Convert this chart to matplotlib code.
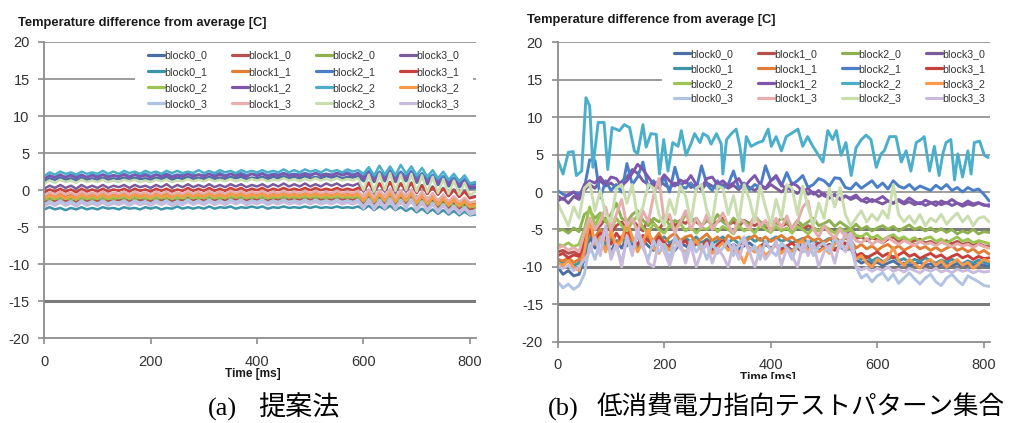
import numpy as np
import matplotlib
matplotlib.use("Agg")
import matplotlib.pyplot as plt
from matplotlib.patches import Rectangle
from matplotlib.font_manager import FontProperties

W, H, DPI = 1015, 423, 100

# ---------------- data ----------------
names = ["block0_0", "block1_0", "block2_0", "block3_0",
         "block0_1", "block1_1", "block2_1", "block3_1",
         "block0_2", "block1_2", "block2_2", "block3_2",
         "block0_3", "block1_3", "block2_3", "block3_3"]
colors = ["#4A6FA5", "#B5504C", "#8EB04F", "#7A5C9C",
          "#3D94A8", "#E07E35", "#4A7FC8", "#C8403C",
          "#9BC451", "#7E56AD", "#4BAFCB", "#F89A4A",
          "#AFC3E3", "#E5AEAD", "#C9DDAE", "#C8BBDB"]
time_ms = list(range(0, 820, 10))   # 0 .. 810 ms, 82 samples

# (a) proposed method
a_block2_2 = [1.9, 2.4, 2.1, 2.5, 2.2, 2.4, 2.1, 2.5, 2.2, 2.4,
              2.2, 2.6, 2.2, 2.5, 2.2, 2.6, 2.3, 2.5, 2.2, 2.6,
              2.3, 2.5, 2.2, 2.6, 2.3, 2.6, 2.3, 2.5, 2.3, 2.7,
              2.3, 2.6, 2.3, 2.7, 2.4, 2.6, 2.3, 2.7, 2.4, 2.6,
              2.4, 2.7, 2.4, 2.6, 2.4, 2.8, 2.4, 2.7, 2.4, 2.8,
              2.5, 2.7, 2.4, 2.8, 2.5, 2.7, 2.4, 2.8, 2.5, 2.7,
              2.2, 3.1, 2.0, 3.3, 2.1, 3.2, 2.0, 3.4, 2.2, 3.2,
              2.0, 3.0, 1.8, 2.7, 1.6, 2.5, 1.4, 2.2, 1.2, 2.0, 0.9, 1.1]
a_block2_1 = [1.6, 1.9, 1.8, 2.0, 1.8, 2.1, 1.9, 2.0, 1.8, 2.1,
              1.9, 2.1, 1.9, 2.0, 1.9, 2.2, 1.9, 2.1, 2.0, 2.2,
              1.9, 2.1, 2.0, 2.2, 1.9, 2.1, 2.0, 2.2, 2.0, 2.1,
              2.0, 2.2, 2.0, 2.3, 2.0, 2.2, 2.1, 2.3, 2.0, 2.2,
              2.1, 2.3, 2.0, 2.2, 2.1, 2.3, 2.1, 2.2, 2.1, 2.3,
              2.1, 2.3, 2.1, 2.2, 2.1, 2.3, 2.2, 2.4, 2.1, 2.3,
              1.8, 2.6, 1.7, 2.5, 1.8, 2.7, 1.7, 2.5, 1.8, 2.6,
              1.6, 2.3, 1.4, 2.1, 1.2, 1.9, 1.1, 1.7, 0.9, 1.5, 0.7, 0.8]
a_block1_2 = [1.5, 2.0, 1.7, 2.1, 1.7, 2.0, 1.6, 2.1, 1.7, 2.0,
              1.7, 2.1, 1.7, 2.0, 1.8, 2.1, 1.7, 2.1, 1.8, 2.0,
              1.7, 2.1, 1.8, 2.1, 1.7, 2.0, 1.8, 2.2, 1.8, 2.1,
              1.8, 2.2, 1.8, 2.1, 1.8, 2.2, 1.9, 2.1, 1.8, 2.2,
              1.9, 2.2, 1.8, 2.1, 1.9, 2.3, 1.9, 2.1, 1.9, 2.2,
              1.9, 2.3, 1.9, 2.2, 1.9, 2.3, 2.0, 2.2, 1.9, 2.3,
              1.5, 2.3, 1.3, 2.2, 1.4, 2.4, 1.3, 2.2, 1.5, 2.3,
              1.2, 2.0, 1.0, 1.8, 0.9, 1.6, 0.8, 1.4, 0.6, 1.2, 0.4, 0.5]
a_block0_0 = [1.2, 1.6, 1.4, 1.7, 1.4, 1.6, 1.3, 1.7, 1.4, 1.6,
              1.4, 1.7, 1.4, 1.6, 1.5, 1.7, 1.4, 1.7, 1.5, 1.6,
              1.4, 1.7, 1.5, 1.8, 1.4, 1.7, 1.5, 1.8, 1.5, 1.7,
              1.5, 1.8, 1.5, 1.7, 1.5, 1.8, 1.6, 1.8, 1.5, 1.7,
              1.6, 1.8, 1.5, 1.8, 1.6, 1.9, 1.6, 1.8, 1.6, 1.9,
              1.6, 1.8, 1.6, 1.9, 1.7, 1.9, 1.6, 1.8, 1.7, 1.9,
              1.2, 2.0, 1.1, 1.9, 1.2, 2.1, 1.1, 1.9, 1.2, 2.0,
              1.0, 1.7, 0.8, 1.5, 0.7, 1.3, 0.5, 1.1, 0.4, 0.9, 0.2, 0.3]
a_block2_3 = [0.9, 1.3, 1.0, 1.4, 1.1, 1.3, 1.0, 1.4, 1.1, 1.3,
              1.1, 1.4, 1.1, 1.3, 1.1, 1.4, 1.2, 1.4, 1.1, 1.3,
              1.1, 1.4, 1.2, 1.4, 1.1, 1.3, 1.2, 1.5, 1.2, 1.4,
              1.2, 1.5, 1.2, 1.4, 1.2, 1.5, 1.2, 1.4, 1.2, 1.5,
              1.3, 1.5, 1.2, 1.4, 1.3, 1.6, 1.3, 1.5, 1.2, 1.5,
              1.3, 1.6, 1.3, 1.5, 1.3, 1.6, 1.3, 1.5, 1.3, 1.6,
              0.0, 2.1, -0.2, 2.2, 0.0, 2.3, -0.1, 2.1, 0.0, 2.2,
              -0.2, 2.0, -0.3, 1.8, -0.4, 1.5, -0.5, 1.3, -0.6, 1.0, -0.7, -0.2]
a_block3_0 = [0.2, 0.6, 0.3, 0.7, 0.3, 0.6, 0.2, 0.7, 0.3, 0.6,
              0.3, 0.7, 0.3, 0.6, 0.4, 0.7, 0.3, 0.7, 0.4, 0.6,
              0.3, 0.7, 0.4, 0.8, 0.3, 0.7, 0.4, 0.8, 0.4, 0.7,
              0.4, 0.8, 0.4, 0.7, 0.4, 0.8, 0.5, 0.8, 0.4, 0.7,
              0.5, 0.8, 0.4, 0.8, 0.5, 0.9, 0.5, 0.8, 0.5, 0.9,
              0.5, 0.8, 0.5, 0.9, 0.6, 0.9, 0.5, 0.8, 0.6, 0.9,
              -0.2, 1.0, -0.3, 0.9, -0.2, 1.1, -0.3, 0.9, -0.2, 1.0,
              -0.4, 0.7, -0.5, 0.5, -0.6, 0.3, -0.8, 0.1, -0.9, -0.1, -1.0, -0.8]
a_block3_1 = [-0.3, 0.1, -0.2, 0.2, -0.2, 0.1, -0.3, 0.2, -0.2, 0.1,
              -0.2, 0.2, -0.2, 0.1, -0.1, 0.2, -0.2, 0.2, -0.1, 0.1,
              -0.2, 0.2, -0.1, 0.2, -0.2, 0.1, -0.1, 0.3, -0.1, 0.2,
              -0.1, 0.3, -0.1, 0.2, -0.1, 0.3, 0.0, 0.3, -0.1, 0.2,
              0.0, 0.3, -0.1, 0.2, 0.0, 0.3, 0.0, 0.2, 0.0, 0.3,
              0.0, 0.3, 0.0, 0.2, 0.0, 0.3, 0.0, 0.2, 0.0, 0.3,
              0.0, 1.0, -0.1, 0.9, 0.0, 1.1, -0.1, 0.9, 0.0, 1.0,
              -0.3, 0.6, -0.5, 0.4, -0.6, 0.2, -0.8, 0.0, -0.9, -0.2, -1.1, -0.9]
a_block1_3 = [-0.7, -0.3, -0.6, -0.2, -0.6, -0.3, -0.7, -0.2, -0.6, -0.3,
              -0.6, -0.2, -0.6, -0.3, -0.5, -0.2, -0.6, -0.2, -0.5, -0.3,
              -0.6, -0.2, -0.5, -0.2, -0.6, -0.3, -0.5, -0.1, -0.5, -0.2,
              -0.5, -0.1, -0.5, -0.2, -0.5, -0.1, -0.4, -0.1, -0.5, -0.2,
              -0.4, -0.1, -0.5, -0.2, -0.4, -0.1, -0.4, -0.2, -0.4, -0.1,
              -0.4, -0.1, -0.4, -0.2, -0.4, -0.1, -0.4, -0.2, -0.4, -0.1,
              -0.9, 0.1, -1.0, 0.0, -0.9, 0.2, -1.0, 0.0, -0.9, 0.1,
              -1.2, -0.2, -1.3, -0.4, -1.4, -0.6, -1.5, -0.8, -1.6, -1.0, -1.7, -1.5]
a_block1_1 = [-1.0, -0.6, -0.9, -0.5, -0.9, -0.6, -1.0, -0.5, -0.9, -0.6,
              -0.9, -0.5, -0.9, -0.6, -0.8, -0.5, -0.9, -0.5, -0.8, -0.6,
              -0.9, -0.5, -0.8, -0.5, -0.9, -0.6, -0.8, -0.4, -0.8, -0.5,
              -0.8, -0.4, -0.8, -0.5, -0.8, -0.4, -0.7, -0.4, -0.8, -0.5,
              -0.7, -0.4, -0.8, -0.5, -0.7, -0.4, -0.7, -0.5, -0.7, -0.4,
              -0.7, -0.4, -0.7, -0.5, -0.7, -0.4, -0.7, -0.5, -0.7, -0.4,
              -1.2, -0.2, -1.3, -0.3, -1.2, -0.1, -1.3, -0.3, -1.2, -0.2,
              -1.5, -0.5, -1.6, -0.7, -1.7, -0.9, -1.8, -1.1, -1.9, -1.3, -2.0, -1.8]
a_block3_2 = [-1.1, -0.7, -1.0, -0.7, -1.1, -0.8, -1.1, -0.6, -1.0, -0.7,
              -1.0, -0.6, -1.0, -0.7, -0.9, -0.6, -1.0, -0.6, -0.9, -0.7,
              -1.0, -0.6, -0.9, -0.7, -1.0, -0.6, -0.9, -0.5, -0.9, -0.6,
              -0.9, -0.5, -0.9, -0.6, -0.9, -0.5, -0.8, -0.5, -0.9, -0.6,
              -0.8, -0.5, -0.9, -0.6, -0.8, -0.5, -0.8, -0.6, -0.8, -0.5,
              -0.8, -0.5, -0.8, -0.6, -0.8, -0.5, -0.8, -0.6, -0.8, -0.5,
              -1.4, -0.4, -1.5, -0.5, -1.4, -0.3, -1.5, -0.5, -1.4, -0.4,
              -1.7, -0.7, -1.8, -0.9, -1.9, -1.1, -2.0, -1.3, -2.1, -1.5, -2.2, -2.0]
a_block0_2 = [-1.3, -0.9, -1.2, -0.8, -1.2, -0.9, -1.3, -0.8, -1.2, -0.9,
              -1.2, -0.8, -1.2, -0.9, -1.1, -0.8, -1.2, -0.8, -1.1, -0.9,
              -1.2, -0.8, -1.1, -0.8, -1.2, -0.9, -1.1, -0.7, -1.1, -0.8,
              -1.1, -0.7, -1.1, -0.8, -1.1, -0.7, -1.0, -0.7, -1.1, -0.8,
              -1.0, -0.7, -1.1, -0.8, -1.0, -0.7, -1.0, -0.8, -1.0, -0.7,
              -1.0, -0.7, -1.0, -0.8, -1.0, -0.7, -1.0, -0.8, -1.0, -0.7,
              -1.5, -0.5, -1.6, -0.6, -1.5, -0.4, -1.6, -0.6, -1.5, -0.5,
              -1.8, -0.8, -1.9, -1.0, -2.0, -1.2, -2.1, -1.4, -2.2, -1.6, -2.3, -2.1]
a_block2_0 = [-1.0, -1.4, -1.0, -1.3, -0.9, -1.4, -1.0, -1.3, -0.9, -1.3,
              -0.9, -1.3, -1.0, -1.3, -0.9, -1.2, -0.9, -1.3, -0.9, -1.2,
              -0.9, -1.3, -0.9, -1.2, -0.8, -1.2, -0.9, -1.3, -0.8, -1.2,
              -0.8, -1.2, -0.9, -1.2, -0.8, -1.1, -0.8, -1.2, -0.8, -1.1,
              -0.8, -1.2, -0.8, -1.1, -0.8, -1.2, -0.7, -1.1, -0.8, -1.1,
              -0.7, -1.1, -0.8, -1.2, -0.7, -1.1, -0.7, -1.1, -0.8, -1.1,
              -0.6, -1.7, -0.5, -1.8, -0.6, -1.7, -0.5, -1.8, -0.6, -1.7,
              -0.8, -2.0, -1.0, -2.1, -1.2, -2.2, -1.4, -2.3, -1.6, -2.4, -1.8, -2.4]
a_block1_0 = [-1.6, -1.2, -1.5, -1.1, -1.5, -1.2, -1.6, -1.1, -1.5, -1.2,
              -1.5, -1.1, -1.5, -1.2, -1.4, -1.1, -1.5, -1.1, -1.4, -1.2,
              -1.5, -1.1, -1.4, -1.1, -1.5, -1.2, -1.4, -1.0, -1.4, -1.1,
              -1.4, -1.0, -1.4, -1.1, -1.4, -1.0, -1.3, -1.0, -1.4, -1.1,
              -1.3, -1.0, -1.4, -1.1, -1.3, -1.0, -1.3, -1.1, -1.3, -1.0,
              -1.3, -1.0, -1.3, -1.1, -1.3, -1.0, -1.3, -1.1, -1.3, -1.0,
              -1.8, -0.8, -1.9, -0.9, -1.8, -0.7, -1.9, -0.9, -1.8, -0.8,
              -2.1, -1.1, -2.2, -1.3, -2.3, -1.5, -2.4, -1.7, -2.5, -1.9, -2.6, -2.4]
a_block0_3 = [-1.9, -1.5, -1.8, -1.4, -1.8, -1.5, -1.9, -1.4, -1.8, -1.5,
              -1.8, -1.4, -1.8, -1.5, -1.7, -1.4, -1.8, -1.4, -1.7, -1.5,
              -1.8, -1.4, -1.7, -1.4, -1.8, -1.5, -1.7, -1.3, -1.7, -1.4,
              -1.7, -1.3, -1.7, -1.4, -1.7, -1.3, -1.6, -1.3, -1.7, -1.4,
              -1.6, -1.3, -1.7, -1.4, -1.6, -1.3, -1.6, -1.4, -1.6, -1.3,
              -1.6, -1.3, -1.6, -1.4, -1.6, -1.3, -1.6, -1.4, -1.6, -1.3,
              -2.2, -1.2, -2.3, -1.3, -2.2, -1.1, -2.3, -1.3, -2.2, -1.2,
              -2.5, -1.5, -2.6, -1.7, -2.7, -1.9, -2.8, -2.1, -2.9, -2.3, -3.0, -2.8]
a_block3_3 = [-2.2, -1.8, -2.1, -1.7, -2.1, -1.8, -2.2, -1.7, -2.1, -1.8,
              -2.1, -1.7, -2.1, -1.8, -2.0, -1.7, -2.1, -1.7, -2.0, -1.8,
              -2.1, -1.7, -2.0, -1.7, -2.1, -1.8, -2.0, -1.6, -2.0, -1.7,
              -2.0, -1.6, -2.0, -1.7, -2.0, -1.6, -1.9, -1.6, -2.0, -1.7,
              -1.9, -1.6, -2.0, -1.7, -1.9, -1.6, -1.9, -1.7, -1.9, -1.6,
              -1.9, -1.6, -1.9, -1.7, -1.9, -1.6, -1.9, -1.7, -1.9, -1.6,
              -2.5, -1.4, -2.6, -1.5, -2.5, -1.3, -2.6, -1.5, -2.5, -1.4,
              -2.8, -1.7, -2.9, -1.9, -3.0, -2.1, -3.1, -2.3, -3.2, -2.5, -3.3, -3.1]
a_block0_1 = [-2.6, -2.3, -2.6, -2.4, -2.7, -2.4, -2.6, -2.3, -2.6, -2.4,
              -2.6, -2.3, -2.5, -2.4, -2.6, -2.3, -2.5, -2.4, -2.6, -2.3,
              -2.5, -2.3, -2.6, -2.4, -2.5, -2.2, -2.5, -2.3, -2.5, -2.3,
              -2.5, -2.2, -2.5, -2.3, -2.4, -2.2, -2.5, -2.3, -2.4, -2.2,
              -2.4, -2.2, -2.5, -2.3, -2.4, -2.2, -2.4, -2.3, -2.4, -2.2,
              -2.4, -2.2, -2.4, -2.3, -2.4, -2.2, -2.4, -2.3, -2.4, -2.2,
              -2.6, -2.1, -2.7, -2.2, -2.6, -2.1, -2.7, -2.3, -2.8, -2.4,
              -3.0, -2.5, -3.1, -2.6, -3.2, -2.7, -3.3, -2.8, -3.4, -2.9, -3.4, -3.3]

# (b) low-power-oriented test pattern set
b_block2_2_t = [0, 10, 20, 29, 35, 45, 53, 60, 66, 76, 87, 94, 102, 116, 125, 135, 144, 150, 160, 166,
                175, 185, 191, 199, 207, 216, 226, 232, 241, 251, 257, 267, 273, 282, 288, 298, 307, 310, 317, 326,
                335, 342, 348, 354, 363, 376, 385, 395, 401, 410, 420, 429, 438, 451, 460, 469, 479, 488, 498, 507,
                516, 523, 532, 541, 551, 560, 570, 579, 588, 598, 607, 613, 623, 635, 645, 654, 663, 673, 682, 688,
                698, 707, 716, 723, 729, 738, 745, 751, 760, 770, 776, 782, 792, 801, 808]
b_block2_2 = [4.3, 2.4, 5.3, 5.4, 2.2, 2.8, 12.6, 11.5, 3.3, 9.3, 9.3, 3.0, 8.6, 8.2, 9.0, 8.6, 5.5, 5.1, 9.0, 6.0,
              7.8, 7.7, 2.4, 7.0, 2.8, 6.6, 6.1, 8.2, 4.9, 6.6, 7.8, 6.6, 7.8, 7.4, 6.4, 7.8, 6.4, 2.4, 7.0, 7.8,
              8.4, 6.1, 2.8, 7.4, 6.1, 6.6, 6.8, 8.4, 6.1, 7.4, 5.5, 7.4, 7.8, 8.4, 6.1, 7.4, 6.1, 5.1, 4.0, 8.2,
              7.0, 8.2, 4.9, 6.6, 2.2, 5.9, 7.0, 7.6, 7.0, 3.3, 5.1, 5.5, 7.4, 7.4, 4.0, 5.5, 2.8, 6.6, 7.0, 7.4,
              2.8, 6.1, 2.2, 5.1, 6.6, 7.0, 1.6, 5.1, 2.0, 5.5, 2.4, 6.6, 6.8, 4.9, 4.6]
b_block2_1 = [0.2, -0.3, -0.5, 0.0, -0.3, 0.5,
              4.3, 4.2, -0.8, 1.5, 0.2, 1.0, 0.0, 3.8, 1.0, 2.0,
              4.0, 0.5, 1.5, 0.5, 2.0, 0.0, 3.3, 0.8, 0.5, 1.2,
              0.3, 3.5, 1.0, 0.2, 1.5, 0.5, 1.0, 2.8, 0.5, 1.2,
              0.3, 1.0, 0.6, 3.5, 1.5, 2.0, 0.8, 2.6, 1.0, 1.5,
              2.2, 0.6, 1.0, 1.8, 1.5, 0.8, 1.9, 1.8, 0.6, 0.4,
              1.2, 0.5, 1.0, 1.5, 0.6, 1.2, 0.4, 1.5, 0.8, 0.5,
              1.0, 0.3, 0.8, 0.5, 0.2, 0.9, 0.4, 1.0, 0.2, 0.6,
              0.0, 0.6, 0.2, 0.4, -0.3, -1.2]
b_block1_2 = [-0.5, -1.0, -0.3, 0.0, -0.8, 1.0,
              1.5, 1.2, 2.0, 1.0, 2.0, 1.8, 0.8, 1.5, 2.5, 3.7,
              3.0, 2.0, 1.0, 1.2, 2.3, 1.5, 0.8, 1.6, 1.2, 2.2,
              1.0, 0.5, 1.8, 2.0, 1.0, 1.5, 0.8, 1.2, 1.8, 0.6,
              1.5, 2.2, 1.0, 0.5, 1.5, 2.2, 1.0, 0.3, 1.2, 0.8,
              0.0, 0.5, -0.3, 0.2, -0.5, -0.8, -0.3, -1.0, -0.6, -0.8,
              -0.4, -1.2, -0.8, -1.3, -1.0, -0.6, -1.2, -1.5, -1.0, -1.4,
              -0.8, -1.3, -1.6, -1.1, -1.4, -1.8, -1.2, -1.5, -1.0, -1.5,
              -1.7, -1.2, -1.6, -1.4, -1.8, -1.7]
b_block3_0 = [-1.2, -0.8, -1.5, -0.6, -1.0, 0.2,
              1.0, 0.5, 1.5, 0.8, 1.2, 0.6, 1.4, 2.0, 3.0, 2.5,
              1.5, 1.0, 0.8, 1.5, 1.0, 0.5, 1.2, 0.8, 1.5, 0.6,
              1.0, 0.3, 1.2, 0.8, 0.4, 1.0, 0.5, 0.9, 0.3, 1.1,
              0.6, 0.2, 0.8, 0.4, 1.0, 0.5, 0.0, 0.6, 0.2, -0.2,
              0.4, -0.3, 0.0, -0.6, -0.2, -0.8, -0.4, -0.9, -0.5, -1.0,
              -0.7, -1.1, -1.4, -1.0, -1.3, -1.6, -1.2, -1.5, -1.2, -1.6,
              -1.3, -1.7, -1.4, -1.8, -1.5, -1.3, -1.7, -1.4, -1.8, -1.5,
              -1.9, -1.6, -1.8, -1.5, -1.7, -1.9]
b_block2_3 = [-1.5, -3.0, -4.5, -2.0, -3.5, 0.5,
              1.2, -2.5, 0.2, -3.0, -4.0, 0.5, 1.0, -1.5, 1.0, -3.5,
              -2.0, 1.0, 0.5, -3.0, -4.5, -1.0, -3.0, 0.8, -0.5, -4.0,
              0.5, 1.0, -2.5, -4.0, 0.8, 0.5, -3.0, -0.5, -4.0, 1.0,
              -1.0, -4.0, 0.8, -2.0, -4.5, -1.0, -3.5, 1.0, 0.5, -3.0,
              0.8, -2.0, -4.5, -1.5, -3.5, 0.5, -2.0, 0.6, -3.0, -4.5,
              -3.5, -2.5, -4.0, -3.0, -3.8, -2.5, -3.5, 1.0, -3.0, -4.0,
              -3.2, -4.2, -3.0, -4.5, -3.5, -4.0, -3.0, -4.3, -3.5, -2.8,
              -4.0, -3.2, -4.5, -3.5, -3.3, -4.0]
b_block2_0 = [-5.2, -5.0, -5.5, -4.8, -5.3, -3.0,
              -2.5, -3.5, -2.8, -4.0, -3.0, -1.5, -3.5, -4.0, -3.0, -2.5,
              -3.8, -4.5, -3.5, -4.0, -3.2, -4.5, -3.8, -4.2, -3.0, -4.0,
              -3.5, -4.5, -3.8, -4.2, -3.0, -4.0, -4.5, -3.5, -4.2, -3.8,
              -4.5, -3.2, -4.0, -4.5, -3.8, -4.2, -3.5, -4.0, -4.8, -3.8,
              -4.5, -4.0, -3.5, -4.5, -4.2, -3.8, -4.6, -4.0, -4.5, -5.0,
              -4.3, -5.0, -4.6, -5.2, -4.8, -4.5, -5.0, -4.6, -5.2, -4.8,
              -4.4, -5.0, -4.7, -5.2, -4.8, -5.3, -4.9, -5.4, -5.0, -5.6,
              -5.2, -5.5, -5.0, -5.6, -5.3, -5.4]
b_block0_2 = [-7.0, -7.2, -6.8, -7.3, -7.0, -5.0,
              -2.0, -4.5, -3.0, -3.8, -5.0, -3.5, -4.5, -5.2, -4.0, -3.2,
              -4.8, -5.5, -4.2, -5.0, -5.5, -4.5, -5.0, -4.2, -5.2, -4.6,
              -5.5, -4.8, -5.0, -4.4, -5.3, -4.6, -5.0, -5.6, -4.5, -5.2,
              -4.8, -5.5, -4.4, -5.0, -5.4, -4.6, -5.2, -4.8, -5.5, -4.6,
              -5.0, -5.6, -4.8, -5.2, -4.5, -5.0, -5.5, -4.8, -5.3, -5.0,
              -5.8, -6.0, -5.5, -6.2, -5.8, -6.4, -6.0, -5.7, -6.3, -6.0,
              -6.5, -6.1, -6.6, -6.2, -6.0, -6.6, -6.3, -6.8, -6.4, -6.0,
              -6.6, -6.3, -6.8, -6.5, -6.7, -6.9]
b_block1_3 = [-7.5, -7.2, -7.8, -7.4, -8.0, -5.5,
              -3.5, -5.0, -4.0, -2.0, -5.0, -3.0, -1.0, -4.5, -3.5, -5.5,
              -2.5, -4.0, -0.5, 1.8, -4.0, -3.0, -5.5, -4.0, -2.5, -5.0,
              -3.5, -4.8, -3.0, -5.0, -4.0, -2.8, -4.5, -5.5, -3.5, -4.0,
              -5.0, -3.0, -4.5, -3.8, -5.2, -3.5, -4.8, -3.2, -5.0, -4.0,
              -2.0, -1.2, -5.0, -6.0, -4.5, -5.5, -6.2, -5.0, -6.0, -5.5,
              -6.5, -6.8, -6.2, -7.0, -6.5, -6.8, -6.0, -6.6, -7.0, -6.5,
              -6.8, -7.2, -6.6, -7.0, -6.8, -7.2, -6.7, -7.0, -7.3, -6.9,
              -7.2, -7.0, -7.4, -7.0, -7.3, -7.5]
b_block1_0 = [-8.0, -7.8, -8.2, -8.0, -8.4, -6.0,
              -4.0, -5.0, -4.5, -3.5, -5.5, -4.5, -4.0, -5.0, -3.8, -4.5,
              -5.2, -3.5, -4.2, -5.0, -4.0, -3.5, -4.5, -3.8, -4.2, -3.5,
              -4.0, -4.5, -3.8, -4.2, -4.0, -3.5, -4.4, -4.0, -4.6, -3.8,
              -4.2, -4.5, -4.0, -4.8, -4.3, -4.0, -4.6, -4.2, -4.8, -4.4,
              -5.0, -4.5, -4.8, -5.2, -4.7, -5.0, -5.4, -5.0, -5.5, -5.2,
              -6.2, -6.0, -6.5, -6.1, -6.4, -6.8, -6.3, -6.0, -6.6, -6.4,
              -6.8, -6.5, -6.3, -6.8, -6.6, -7.0, -6.7, -6.5, -6.9, -6.6,
              -7.0, -6.8, -7.1, -6.9, -7.2, -7.3]
b_block3_1 = [-8.5, -8.2, -8.8, -8.4, -8.6, -7.0,
              -5.0, -6.5, -5.5, -6.0, -7.0, -5.5, -6.5, -5.0, -6.2, -7.0,
              -5.8, -6.5, -7.2, -6.0, -6.8, -7.5, -6.2, -7.0, -6.5, -7.5,
              -6.8, -7.2, -6.5, -7.8, -7.0, -6.5, -7.4, -8.0, -7.0, -6.8,
              -7.5, -8.0, -7.2, -6.8, -7.6, -7.0, -7.8, -7.2, -6.8, -7.5,
              -8.0, -7.0, -7.4, -6.8, -7.5, -7.0, -7.8, -7.2, -6.8, -7.4,
              -8.5, -8.2, -8.8, -8.4, -8.0, -8.6, -8.2, -8.8, -8.4, -8.0,
              -8.6, -8.3, -8.9, -8.5, -8.2, -8.7, -8.4, -9.0, -8.6, -8.3,
              -8.8, -8.5, -9.0, -8.6, -8.9, -8.8]
b_block1_1 = [-9.0, -9.2, -8.8, -9.4, -9.0, -7.5,
              -5.5, -6.0, -5.0, -6.5, -5.8, -7.0, -6.0, -5.2, -6.5, -6.0,
              -7.2, -5.8, -6.5, -5.5, -6.8, -6.0, -5.5, -6.5, -6.0, -5.8,
              -6.8, -6.2, -5.6, -6.5, -6.0, -6.8, -5.8, -6.3, -6.0, -6.8,
              -6.2, -5.8, -6.5, -6.0, -6.6, -6.2, -5.8, -6.4, -6.0, -6.7,
              -6.3, -5.9, -6.5, -6.2, -6.8, -6.3, -6.0, -6.6, -6.2, -6.5,
              -7.5, -7.0, -7.6, -7.2, -7.8, -7.3, -7.0, -7.6, -7.2, -7.8,
              -7.4, -7.0, -7.6, -7.3, -7.8, -7.4, -7.9, -7.5, -7.2, -7.8,
              -7.5, -8.0, -7.6, -8.2, -7.8, -8.3]
b_block3_2 = [-9.5, -9.8, -9.2, -10.0, -10.5, -8.0,
              -3.5, -7.0, -6.0, -8.0, -5.0, -7.5, -6.5, -4.0, -6.0, -8.0,
              -6.5, -5.0, -7.5, -8.2, -7.0, -7.8, -6.5, -7.5, -8.0, -7.2,
              -6.5, -7.8, -7.0, -8.2, -7.5, -6.8, -7.8, -7.2, -8.0, -9.5,
              -7.5, -8.0, -7.2, -8.5, -7.8, -7.0, -8.2, -7.5, -8.0, -7.0,
              -6.5, -7.8, -7.2, -8.0, -7.5, -8.2, -7.0, -6.5, -7.8, -7.2,
              -9.0, -8.5, -9.5, -10.0, -9.0, -9.5, -8.8, -7.4, -9.2, -9.8,
              -9.0, -9.6, -10.2, -9.4, -9.0, -9.8, -9.2, -10.0, -9.5, -9.0,
              -9.8, -9.4, -10.2, -9.6, -9.0, -9.3]
b_block0_0 = [-10.0, -11.0, -10.5, -11.2, -11.0, -9.0,
              -6.0, -7.5, -6.5, -7.0, -8.0, -6.5, -7.5, -6.0, -7.0, -7.5,
              -6.5, -7.2, -7.8, -6.8, -7.5, -7.0, -7.8, -6.8, -7.2, -7.6,
              -6.9, -7.4, -7.0, -7.8, -7.2, -6.8, -7.5, -7.0, -7.6, -7.2,
              -6.8, -7.4, -7.8, -7.0, -7.5, -7.1, -7.6, -7.2, -7.8, -7.3,
              -7.0, -7.6, -7.2, -7.8, -7.4, -7.0, -7.6, -7.3, -7.8, -7.5,
              -9.0, -9.5, -9.2, -9.6, -9.4, -9.8, -9.5, -9.2, -9.7, -9.5,
              -9.8, -9.6, -9.4, -9.8, -9.6, -9.9, -9.7, -9.5, -9.8, -9.6,
              -9.9, -9.7, -9.8, -9.6, -9.8, -9.9]
b_block0_1 = [-9.0, -9.5, -9.2, -9.8, -9.5, -8.0,
              -5.5, -6.5, -6.0, -7.0, -6.2, -6.8, -6.0, -7.2, -6.5, -6.0,
              -6.8, -6.2, -7.0, -6.5, -6.0, -6.8, -6.4, -7.0, -6.2, -6.6,
              -6.0, -6.8, -6.3, -6.9, -6.5, -6.0, -6.7, -6.3, -6.9, -6.4,
              -6.0, -6.6, -6.2, -6.8, -6.4, -6.0, -6.6, -6.3, -6.8, -6.5,
              -6.2, -6.8, -6.4, -7.0, -6.6, -6.2, -6.8, -6.5, -7.0, -6.6,
              -8.5, -9.0, -8.6, -9.2, -8.8, -9.3, -9.0, -8.6, -9.2, -8.9,
              -9.4, -9.0, -9.3, -8.8, -9.2, -9.5, -9.1, -9.4, -9.0, -9.3,
              -9.6, -9.2, -9.5, -9.1, -9.4, -9.6]
b_block0_3 = [-12.0, -12.8, -12.3, -13.0, -12.5, -11.0,
              -7.0, -9.0, -6.5, -5.0, -8.5, -7.0, -9.5, -6.0, -8.0, -5.5,
              -7.5, -9.0, -6.5, -8.0, -7.0, -9.0, -6.0, -7.5, -8.5, -6.5,
              -8.0, -7.0, -9.0, -6.8, -8.2, -7.5, -6.5, -8.5, -7.0, -6.0,
              -8.0, -7.2, -9.0, -6.5, -7.8, -8.5, -6.8, -7.5, -9.0, -7.0,
              -8.0, -6.5, -8.5, -7.2, -6.8, -8.0, -6.0, -7.5, -5.5, -7.0,
              -10.0, -11.5, -11.0, -12.0, -11.2, -10.8, -11.8, -11.0, -12.2, -11.5,
              -10.8, -11.6, -12.3, -11.5, -11.0, -12.0, -12.5, -11.5, -11.0, -11.8,
              -12.4, -11.2, -11.6, -12.0, -12.5, -12.6]
b_block3_3 = [-10.0, -10.2, -9.8, -10.5, -10.0, -9.0,
              -8.0, -6.0, -8.5, -4.5, -9.0, -7.0, -10.0, -6.0, -8.5, -5.0,
              -7.0, -9.5, -10.0, -6.5, -8.0, -9.8, -7.5, -6.5, -9.5, -7.0,
              -10.0, -8.0, -6.8, -9.5, -7.5, -8.5, -10.0, -7.0, -9.0, -6.5,
              -8.0, -10.0, -7.5, -9.0, -8.0, -6.5, -9.8, -7.5, -8.5, -10.0,
              -7.0, -8.5, -6.8, -10.0, -8.0, -7.2, -9.5, -6.5, -8.0, -5.5,
              -10.0, -10.4, -10.1, -10.6, -10.2, -10.5, -10.0, -10.6, -10.3, -10.7,
              -10.2, -10.5, -10.8, -10.3, -10.6, -10.2, -10.7, -10.4, -10.8, -10.3,
              -10.6, -10.4, -10.8, -10.5, -10.7, -10.6]

yticks = [-20, -15, -10, -5, 0, 5, 10, 15, 20]
xticks = [0, 200, 400, 600, 800]
ylabel_text = "Temperature difference from average [C]"
xlabel_text = "Time [ms]"
caption_a = ("(a)", "提案法")
caption_b = ("(b)", "低消費電力指向テストパターン集合")

panel_a = {n: (time_ms, globals()["a_" + n]) for n in names}
panel_b = {n: (time_ms, globals()["b_" + n]) for n in names}
panel_b["block2_2"] = (b_block2_2_t, b_block2_2)

# ---------------- drawing ----------------
plt.rcParams["font.family"] = ["Liberation Sans", "DejaVu Sans"]
plt.rcParams["axes.unicode_minus"] = False
fig = plt.figure(figsize=(W / DPI, H / DPI), dpi=DPI)
fig.patch.set_facecolor("white")


def fx(x):
    return x / W


def fy(y):
    return 1 - y / H


GRID = "#8c8c8c"


def make_panel(data, box, lw, leg_anchor, legend_cover, thick, labelspacing):
    x0, y0, x1, y1 = box
    ax = fig.add_axes([fx(x0), fy(y1), (x1 - x0) / W, (y1 - y0) / H])
    ax.set_xlim(0, 811.5)
    ax.set_ylim(-20, 20)
    for s in ["top", "right"]:
        ax.spines[s].set_visible(False)
    for s in ["left", "bottom"]:
        ax.spines[s].set_color(GRID)
        ax.spines[s].set_linewidth(1.3)
    for yv in yticks[1:]:
        ax.axhline(yv, color="#7a7a7a" if yv in thick else GRID,
                   lw=2.2 if yv in thick else 1.2, zorder=1)
    # legend background covering the grid line
    ax.add_patch(Rectangle((legend_cover[0], 11), legend_cover[1] - legend_cover[0], 8,
                           facecolor="white", edgecolor="none", zorder=1.5))
    lines = {}
    for n, c in zip(names, colors):
        t, v = data[n]
        (ln,) = ax.plot(t, v, color=c, lw=lw, solid_joinstyle="round",
                        solid_capstyle="round", zorder=2)
        lines[n] = ln
    ax.set_yticks(yticks)
    ax.set_xticks(xticks)
    ax.tick_params(axis="both", direction="out", length=4, width=1.2, color=GRID,
                   labelsize=10.5, labelcolor="#333333")
    ax.tick_params(axis="y", pad=6.5)
    ax.tick_params(axis="x", pad=8)
    order = sorted(names)
    leg = ax.legend([lines[n] for n in order], order, ncol=4, loc="upper left",
                    bbox_to_anchor=(fx(leg_anchor[0]), fy(leg_anchor[1])),
                    bbox_transform=fig.transFigure, frameon=False, borderpad=0,
                    borderaxespad=0, handlelength=1.5, handletextpad=0.05,
                    columnspacing=2.3, labelspacing=labelspacing,
                    prop=FontProperties(family="Liberation Sans", size=7.7))
    for tx in leg.get_texts():
        tx.set_color("#333333")
    for lh in leg.get_lines():
        lh.set_linewidth(2.3)
    leg.set_zorder(5)
    return ax


ax_a = make_panel(panel_a, (44.3, 42.0, 476.0, 338.3), 1.8, (148, 50.5),
                  (170, 806), [-15], 0.58)
ax_b = make_panel(panel_b, (557.7, 42.3, 990.0, 341.7), 2.1, (674, 49),
                  (196, 812), [-15, -10, -5], 0.45)

bold = dict(fontweight="bold", color="#1a1a1a", family=["Liberation Sans", "DejaVu Sans"])
fig.text(fx(18), fy(23), ylabel_text, fontsize=9.3, ha="left", va="center", **bold)
fig.text(fx(527), fy(20.5), ylabel_text, fontsize=9.3, ha="left", va="center", **bold)
fig.text(fx(253), fy(374), xlabel_text, fontsize=8.6, ha="center", va="center", **bold)
fig.text(fx(768), fy(378), xlabel_text, fontsize=8.6, ha="center", va="center", **bold)
fig.patches.append(Rectangle((fx(700), fy(393)), 140 / W, 14 / H, transform=fig.transFigure,
                             facecolor="white", edgecolor="none", zorder=10))

cap_serif = ["Liberation Serif", "DejaVu Serif"]
cap_cjk = ["Noto Sans CJK JP", "DejaVu Sans"]
fig.text(fx(208), fy(409), caption_a[0], fontsize=19, family=cap_serif, ha="left", va="center", zorder=11)
fig.text(fx(258), fy(408), caption_a[1], fontsize=19.5, family=cap_cjk, ha="left", va="center", zorder=11)
fig.text(fx(548), fy(409), caption_b[0], fontsize=19, family=cap_serif, ha="left", va="center", zorder=11)
fig.text(fx(597), fy(408), caption_b[1], fontsize=18.4, family=cap_cjk, ha="left", va="center", zorder=11)

fig.savefig("out.png", dpi=DPI, facecolor="white")
